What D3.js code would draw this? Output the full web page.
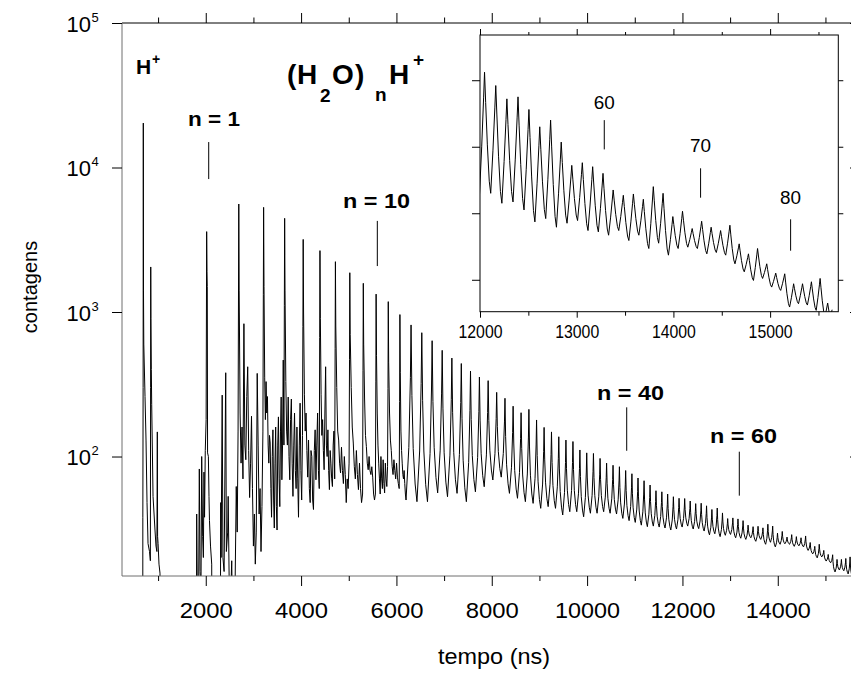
<!DOCTYPE html>
<html><head><meta charset="utf-8">
<script src="https://cdn.jsdelivr.net/npm/d3@7"></script>
<style>
body{margin:0;background:#fff}
svg{display:block}
text{font-family:"Liberation Sans",Arial,sans-serif;fill:#000}
</style>
</head><body>
<svg id="chart" width="851" height="677"></svg>
<script>
// ---------------- DATA ----------------
// cluster size n of the (H2O)nH+ peaks
const clusterN = [1,2,3,4,5,6,7,8,9,10,11,12,13,14,15,16,17,18,19,20,21,22,23,24,25,26,27,28,29,30,
  31,32,33,34,35,36,37,38,39,40,41,42,43,44,45,46,47,48,49,50,51,52,53,54,55,56,57,58,59,60,
  61,62,63,64,65,66,67,68,69,70,71,72,73,74,75,76,77,78,79,80,81,82,83,84];
// flight time of each cluster peak (ns)
const peakTime = [2019,2693,3214,3655,4044,4396,4720,5022,5305,5574,
  5829,6073,6307,6532,6749,6960,7163,7361,7554,7741,
  7924,8103,8277,8448,8615,8779,8940,9098,9253,9406,
  9556,9703,9849,9992,10133,10272,10409,10544,10678,10809,
  10940,11068,11195,11321,11445,11568,11690,11810,11929,12047,
  12163,12278,12393,12506,12618,12730,12840,12949,13058,13165,
  13272,13377,13482,13586,13689,13792,13893,13994,14094,14194,
  14292,14390,14488,14584,14680,14776,14870,14965,15058,15151,
  15243,15335,15427,15517];
// peak height (counts)
const peakTop = [3600,5590,5300,4450,3180,2660,2230,1870,1580,1330,
  1180,960,814,719,633,543,480,440,390,355,
  335,278,253,223,201,212,179,159,148,137,
  130,127,111,106,105,97,90,87,85,80,
  76,71,68,63.5,58,57,55,52.7,51.4,51.2,
  49.2,47.2,47.5,45.6,43.0,44.0,40.7,37.2,37.6,37.0,
  36.0,33.5,32.7,32.9,32.1,34.0,33.0,29.5,30.3,27.7,
  28.8,27.9,27.4,28.2,25.4,23.9,24.7,22.4,21.0,20.9,
  19.4,19.4,19.7,20.2];
// minimum just before peak n, for n = 13 … 84 (counts)
const valleyBefore = [50,48.7,48.7,56,52.7,55.6,48.7,57,61.8,68.8,
  72,55.6,51.4,48.7,47.4,43.8,45,43.8,39.4,41.5,
  41.5,38.3,40.5,40.5,41.5,40.5,40,37.3,36,35,
  33.5,32.7,33,32.5,32,31,31.5,32.5,33.0,31.5,
  31.7,30.5,28.7,29.2,27.9,28.5,28.9,27.4,27.2,26.7,
  27.4,25.9,26.7,24.7,25.5,23.7,24.7,24.9,24.7,23.9,
  24.1,23.7,22.4,21.2,19.9,20.2,18.9,18.4,15.9,16.4,
  16.2,15.4];
// noisy signal following peaks n = 2 … 12 (counts, in time order)
const earlyNoise = [
  [1400,200,90,160,70,830,120,95,260,418,110,52,90,190,60,24,40,18,30,376,120,40,60,22,45,150],
  [1500,350,180,330,200,260,120,90,140,124,60,38,100,153,50,32,90,160,45,31,120,188,70,45,150,258,69,120,465,120],
  [1400,330,150,120,258,100,69,180,250,90,53,120,200,80,60,160,70,38,120,234,80,50,140],
  [1000,270,150,200,110,72,130,60,48,110,100,50,43,110,153,69,120,200,80,60],
  [900,270,140,180,110,81,200,418,120,100,153,80,59,110,90,70,62,120,150,70],
  [800,300,150,130,90,77,116,80,65,100,75,48,70,60,90],
  [700,300,160,124,85,70,110,75,59,90,60,48,55],
  [600,250,140,117,90,81,100,80,75,85,72,55,50,55],
  [500,200,120,90,70,55,100,70,60,95,65,56,90,70,62,85],
  [450,200,130,110,85,75,95,80,70,90,72,65,60],
  [380,150,110,90,75,70,80,65,55,50]
];
// trace before the n = 2 peak: H+, H2+, n = 1 region [time ns, counts]
const preTrace = [[660,1],[678,1],[680,38],[686,300],[690,20300],[694,1400],[700,600],[726,260],[747,130],
  [768,48],[789,25],[820,22],[838,19],[843,300],[846,2050],[850,900],[858,400],[866,230],[894,53],
  [935,31],[956,24],[975,22],[984,148],[990,28],[1000,25],[1019,18],[1040,15.6],[1050,1],
  [1800,1],[1810,40],[1822,12],[1850,10],[1865,82],[1880,16],[1900,12],[1915,100],[1935,28],[1950,20],
  [1963,78],[1975,38],[1990,110],[2008,180],[2019,3600],[2026,1900],[2032,1500],[2038,106],[2055,100],
  [2068,53],[2078,36],[2100,24],[2125,18],[2135,1],
  [2300,1],[2314,48],[2322,20],[2345,266],[2360,20],[2385,16],[2419,380],[2432,22],[2460,30],[2470,53],
  [2490,15],[2520,10],[2545,19],[2560,8],[2610,9],[2640,62],[2660,30],[2678,150]];
// trace after the last resolved peak
const tailTrace = [[15570,14.6],[15595,16.5],[15620,14.2],[15641,15.5]];

// axes
const xMajorTicks = [2000,4000,6000,8000,10000,12000,14000];
const xMinorTicks = [1000,3000,5000,7000,9000,11000,13000,15000];
const yTicks = [100,1000,10000,100000];
const yTickExp = ["2","3","4","5"];
const insetXMajor = [12000,13000,14000,15000];
const insetXMinor = [12500,13500,14500,15500];
const insetYTicks = [20,30,40,50];

// annotations
const mainLabels = ["n = 1","n = 10","n = 40","n = 60"];
const mainMarkT = [2062,5599,10831,13193];
const mainMarkFrom = [15000,4270,219,108];
const mainMarkTo = [8320,2080,109.6,53.6];
const insetLabels = ["60","70","80"];
const insetMarkT = [13285,14281,15212];
const insetMarkFrom = [44.0,36.76,29.09];
const insetMarkTo = [39.6,32.34,24.37];

// ---------------- CHART ----------------
const svg = d3.select("#chart");
const L = 122, R = 856, T = 23, B = 576;
const x = d3.scaleLinear().domain([243, 15641]).range([L, R]);
const y = d3.scaleLog().domain([14.9, 100000]).range([B, T]);

const logMix = (a, b, f) => Math.exp(Math.log(a) + f * (Math.log(b) - Math.log(a)));
const linMix = (a, b, f) => a + f * (b - a);

// peak profile: [fraction of gap (negative = before peak), fraction of height]
function buildTrace(mix, riseShape, fallShape) {
  const pts = preTrace.map(d => [d[0], d[1]]);
  const N = peakTime.length;
  const vb = n => valleyBefore[n - 13];
  for (let i = 1; i < N; i++) {
    const n = clusterN[i], t = peakTime[i], top = peakTop[i];
    const tPrev = peakTime[i - 1];
    const tNext = i + 1 < N ? peakTime[i + 1] : t + (t - tPrev);
    const gp = t - tPrev, g = tNext - t;
    if (n <= 12) {
      pts.push([t - 6, top * 0.25]);
      pts.push([t, top]);
      const nz = earlyNoise[n - 2];
      const t0 = t + 8;
      const t1 = (n + 1 <= 12) ? tNext - 15 : tNext - 0.45 * g;
      nz.forEach((v, k) => pts.push([t0 + (t1 - t0) * k / (nz.length - 1), v]));
    } else {
      const v0 = vb(n);
      const v1 = n < 84 ? vb(n + 1) : tailTrace[0][1];
      pts.push([t - 0.45 * gp, v0]);
      riseShape.forEach(s => pts.push([t + s[0] * gp, mix(v0, top, s[1])]));
      pts.push([t, top]);
      fallShape.forEach(s => pts.push([t + s[0] * g, mix(v1, top, s[1])]));
    }
  }
  tailTrace.forEach(d => pts.push([d[0], d[1]]));
  return pts;
}
const trace = buildTrace(logMix, [[-0.2, 0.3], [-0.06, 0.7]], [[0.08, 0.6], [0.2, 0.3], [0.38, 0.1]]);
const insetTrace = buildTrace(linMix, [[-0.25, 0.4], [-0.08, 0.8]], [[0.1, 0.75], [0.25, 0.4], [0.42, 0.1]])
  .filter(d => d[0] > 11700);

const defs = svg.append("defs");
defs.append("clipPath").attr("id", "mainClip").append("rect")
  .attr("x", L).attr("y", T).attr("width", R - L).attr("height", B - T);

// main trace
svg.append("path").datum(trace)
  .attr("clip-path", "url(#mainClip)")
  .attr("fill", "none").attr("stroke", "#000").attr("stroke-width", 1)
  .attr("d", d3.line().x(d => x(d[0])).y(d => y(d[1])));

// frame lines
svg.append("line").attr("x1", L).attr("x2", R).attr("y1", T).attr("y2", T).attr("stroke", "#000");
svg.append("line").attr("x1", L).attr("x2", R).attr("y1", B).attr("y2", B).attr("stroke", "#6e6e6e");
svg.append("line").attr("x1", L).attr("x2", L).attr("y1", T).attr("y2", B).attr("stroke", "#6e6e6e");
svg.append("line").attr("x1", R).attr("x2", R).attr("y1", T).attr("y2", B).attr("stroke", "#000");

function styleAxis(g) {
  g.select(".domain").remove();
  g.selectAll(".tick line").attr("stroke", "#000");
}
// bottom axis
const gb = svg.append("g").attr("transform", `translate(0,${B})`)
  .call(d3.axisBottom(x).tickValues(xMajorTicks).tickSize(10).tickSizeOuter(0).tickPadding(16).tickFormat(d => d));
styleAxis(gb);
gb.selectAll("text").attr("font-size", 22).attr("dy", "0.71em")
  .attr("textLength", d => d >= 10000 ? 65 : 53).attr("lengthAdjust", "spacingAndGlyphs");
styleAxis(svg.append("g").attr("transform", `translate(0,${B})`)
  .call(d3.axisBottom(x).tickValues(xMinorTicks).tickSize(5).tickSizeOuter(0).tickFormat("")));
// top axis
styleAxis(svg.append("g").attr("transform", `translate(0,${T})`)
  .call(d3.axisTop(x).tickValues(xMajorTicks).tickSize(10).tickSizeOuter(0).tickFormat("")));
styleAxis(svg.append("g").attr("transform", `translate(0,${T})`)
  .call(d3.axisTop(x).tickValues(xMinorTicks).tickSize(5.5).tickSizeOuter(0).tickFormat("")));
// left axis
styleAxis(svg.append("g").attr("transform", `translate(${L},0)`)
  .call(d3.axisLeft(y).tickValues(yTicks).tickSize(10).tickSizeOuter(0).tickFormat("")));
// right axis (inward ticks)
styleAxis(svg.append("g").attr("transform", `translate(${R},0)`)
  .call(d3.axisLeft(y).tickValues(yTicks).tickSize(6).tickSizeOuter(0).tickFormat("")));

// y tick labels 10^k
yTicks.forEach((v, i) => {
  const yy = y(v);
  svg.append("text").attr("x", 91).attr("y", yy + 8.5).attr("text-anchor", "end")
    .attr("font-size", 22).text("10");
  svg.append("text").attr("x", 91.5).attr("y", yy - 1.5).attr("font-size", 13).text(yTickExp[i]);
});

// axis titles
svg.append("text").attr("transform", "translate(37,287) rotate(-90)")
  .attr("text-anchor", "middle").attr("font-size", 20).text("contagens");
svg.append("text").attr("x", 494).attr("y", 664).attr("text-anchor", "middle")
  .attr("font-size", 22).attr("textLength", 112).attr("lengthAdjust", "spacingAndGlyphs").text("tempo (ns)");

// H+ label
svg.append("text").attr("x", 136).attr("y", 73.5).attr("font-size", 21).attr("font-weight", "bold").text("H");
svg.append("text").attr("x", 152).attr("y", 64).attr("font-size", 14).attr("font-weight", "bold").text("+");

// (H2O)nH+ title
const titleParts = [
  {t: "(", x: 287, yb: 83.5, s: 28}, {t: "H", x: 297, yb: 83.5, s: 28},
  {t: "2", x: 320, yb: 101.5, s: 19}, {t: "O", x: 332, yb: 83.5, s: 28},
  {t: ")", x: 355, yb: 83.5, s: 28}, {t: "n", x: 375, yb: 100.5, s: 19},
  {t: "H", x: 389, yb: 83.5, s: 28}, {t: "+", x: 413, yb: 66, s: 19}
];
titleParts.forEach(p => svg.append("text").attr("x", p.x).attr("y", p.yb)
  .attr("font-size", p.s).attr("font-weight", "bold").text(p.t));

// main annotations
const mainLabelX = [188, 343, 597, 710];
const mainLabelY = [126, 208, 400, 442.5];
mainLabels.forEach((s, i) => {
  svg.append("line").attr("x1", x(mainMarkT[i])).attr("x2", x(mainMarkT[i]))
    .attr("y1", y(mainMarkFrom[i])).attr("y2", y(mainMarkTo[i])).attr("stroke", "#000");
  svg.append("text").attr("x", mainLabelX[i]).attr("y", mainLabelY[i]).attr("font-size", 20)
    .attr("font-weight", "bold").attr("textLength", i === 0 ? 52 : 67)
    .attr("lengthAdjust", "spacingAndGlyphs").text(s);
});

// ---------------- INSET ----------------
const iL = 480, iR = 838.3, iT = 35, iB = 311.7;
const xi = d3.scaleLinear().domain([12000, 15705]).range([iL, iR]);
const yi = d3.scaleLinear().domain([15.2, 56.8]).range([iB, iT]);
svg.append("rect").attr("x", iL).attr("y", iT).attr("width", iR - iL).attr("height", iB - iT)
  .attr("fill", "#fff");
defs.append("clipPath").attr("id", "insetClip").append("rect")
  .attr("x", iL).attr("y", iT).attr("width", iR - iL).attr("height", iB - iT);
svg.append("path").datum(insetTrace)
  .attr("clip-path", "url(#insetClip)")
  .attr("fill", "none").attr("stroke", "#000").attr("stroke-width", 1)
  .attr("d", d3.line().x(d => xi(d[0])).y(d => yi(d[1])));
svg.append("rect").attr("x", iL).attr("y", iT).attr("width", iR - iL).attr("height", iB - iT)
  .attr("fill", "none").attr("stroke", "#000").attr("stroke-width", 1);

const gib = svg.append("g").attr("transform", `translate(0,${iB})`)
  .call(d3.axisBottom(xi).tickValues(insetXMajor).tickSize(6).tickSizeOuter(0).tickPadding(8).tickFormat(d => d));
styleAxis(gib);
gib.selectAll("text").attr("font-size", 18).attr("dy", "0.71em")
  .attr("textLength", 44).attr("lengthAdjust", "spacingAndGlyphs");
styleAxis(svg.append("g").attr("transform", `translate(0,${iB})`)
  .call(d3.axisBottom(xi).tickValues(insetXMinor).tickSize(4).tickSizeOuter(0).tickFormat("")));
styleAxis(svg.append("g").attr("transform", `translate(0,${iT})`)
  .call(d3.axisTop(xi).tickValues(insetXMajor).tickSize(6).tickSizeOuter(0).tickFormat("")));
styleAxis(svg.append("g").attr("transform", `translate(0,${iT})`)
  .call(d3.axisTop(xi).tickValues(insetXMinor).tickSize(3).tickSizeOuter(0).tickFormat("")));
styleAxis(svg.append("g").attr("transform", `translate(${iL},0)`)
  .call(d3.axisLeft(yi).tickValues(insetYTicks).tickSize(8).tickSizeOuter(0).tickFormat("")));
styleAxis(svg.append("g").attr("transform", `translate(${iR},0)`)
  .call(d3.axisRight(yi).tickValues(insetYTicks).tickSize(5).tickSizeOuter(0).tickFormat("")));

const insetLabelY = [108.5, 151.7, 204];
insetLabels.forEach((s, i) => {
  svg.append("line").attr("x1", xi(insetMarkT[i])).attr("x2", xi(insetMarkT[i]))
    .attr("y1", yi(insetMarkFrom[i])).attr("y2", yi(insetMarkTo[i])).attr("stroke", "#000");
  svg.append("text").attr("x", xi(insetMarkT[i])).attr("y", insetLabelY[i])
    .attr("text-anchor", "middle").attr("font-size", 18)
    .attr("textLength", 21).attr("lengthAdjust", "spacingAndGlyphs").text(s);
});
</script>
</body></html>
